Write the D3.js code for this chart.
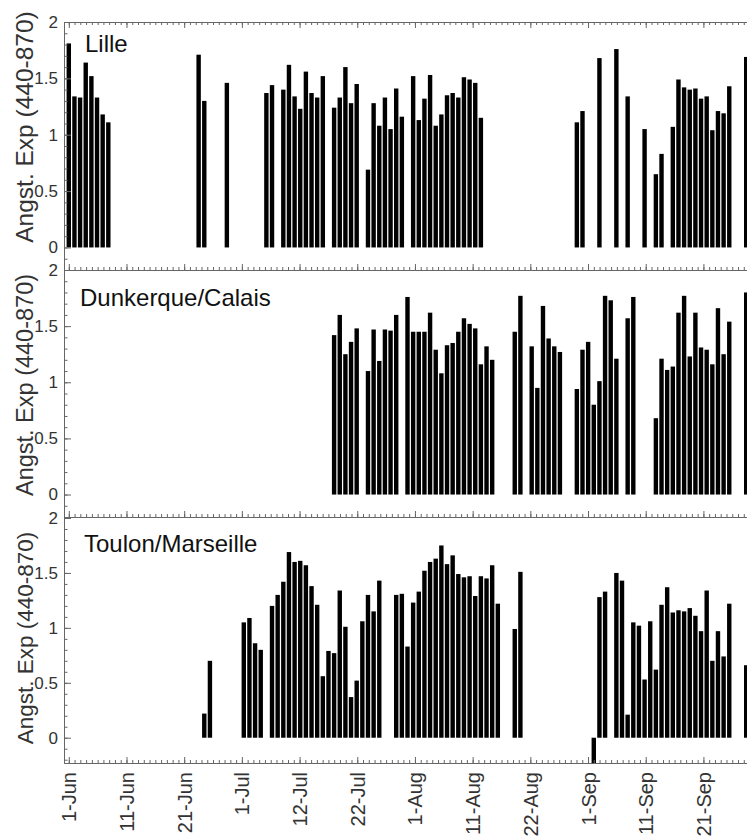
<!DOCTYPE html>
<html>
<head>
<meta charset="utf-8">
<script src="https://cdn.jsdelivr.net/npm/d3@7"></script>
<style>
body { margin: 0; background: #fff; }
svg { display: block; }
text { font-family: "Liberation Sans", Arial, sans-serif; }
</style>
</head>
<body>
<svg id="chart" width="747" height="838"></svg>
<script>
// days counted from 1-Jun, one bar per day with data
var lilleDays = [0,1,2,3,4,5,6,7,23,24,28,35,36,38,39,40,41,42,43,44,45,47,48,49,50,51,
  53,54,55,56,57,58,59,61,62,63,64,65,66,67,68,69,70,71,72,73,
  90,91,94,97,99,102,104,105,107,108,109,110,111,112,113,114,115,116,117,120];
var lilleValues = [1.81,1.34,1.33,1.64,1.52,1.33,1.18,1.11,1.71,1.30,1.46,1.37,1.44,1.40,1.62,1.34,1.23,1.56,1.37,1.33,1.52,1.24,1.33,1.60,1.28,1.45,
  0.69,1.28,1.08,1.33,1.05,1.41,1.16,1.52,1.13,1.32,1.53,1.08,1.18,1.35,1.37,1.33,1.51,1.49,1.46,1.15,
  1.11,1.21,1.68,1.76,1.34,1.05,0.65,0.83,1.07,1.49,1.42,1.40,1.41,1.32,1.34,1.04,1.21,1.19,1.43,1.69];

var dunkDays = [47,48,49,50,51,53,54,55,56,57,58,60,61,62,63,64,65,66,67,68,69,70,71,72,73,74,75,
  79,80,82,83,84,85,86,87,90,91,92,93,94,95,96,97,99,100,
  104,105,106,107,108,109,110,111,112,113,114,115,116,117,120];
var dunkValues = [1.42,1.60,1.25,1.36,1.48,1.10,1.47,1.19,1.47,1.46,1.60,1.76,1.45,1.45,1.45,1.62,1.29,1.08,1.33,1.35,1.45,1.57,1.52,1.48,1.16,1.32,1.20,
  1.45,1.77,1.32,0.95,1.68,1.39,1.32,1.27,0.94,1.29,1.36,0.80,1.01,1.77,1.73,1.21,1.57,1.76,
  0.68,1.21,1.11,1.14,1.62,1.77,1.23,1.62,1.31,1.29,1.16,1.66,1.25,1.54,1.80];

var toulonDays = [24,25,31,32,33,34,36,37,38,39,40,41,42,43,44,45,46,47,48,49,50,51,52,53,54,55,
  58,59,60,61,62,63,64,65,66,67,68,69,70,71,72,73,74,75,76,79,80,93,94,95,
  97,98,99,100,101,102,103,104,105,106,107,108,109,110,111,112,113,114,115,116,117,120];
var toulonValues = [0.22,0.70,1.05,1.09,0.86,0.80,1.20,1.30,1.42,1.69,1.60,1.61,1.57,1.38,1.21,0.56,0.79,0.77,1.34,1.01,0.37,0.52,1.06,1.30,1.15,1.43,
  1.30,1.31,0.83,1.23,1.33,1.52,1.60,1.63,1.75,1.58,1.66,1.49,1.46,1.47,1.29,1.47,1.45,1.57,1.22,0.99,1.51,-0.23,1.28,1.33,
  1.50,1.43,0.21,1.05,1.02,0.53,1.06,0.62,1.21,1.37,1.14,1.16,1.15,1.18,1.11,0.97,1.34,0.70,0.97,0.74,1.22,0.66];

var tickDays = [0,10.22,20.44,30.66,40.88,51.1,61.32,71.54,81.76,91.98,102.2,112.42];
var tickLabels = ["1-Jun","11-Jun","21-Jun","1-Jul","12-Jul","22-Jul","1-Aug","11-Aug","22-Aug","1-Sep","11-Sep","21-Sep"];
var yTicks = [0,0.5,1,1.5,2];
var yTitle = "Angst. Exp (440-870)";

var svg = d3.select("#chart");
var left = 64;

var x = d3.scaleLinear()
    .domain([-0.85, 122])
    .range([left, left + 122.85*5.645]);

var minorDays = d3.range(0, 123, 1.022);

var panels = [
  {name:"Lille", days:lilleDays, values:lilleValues, yMin:-0.2, top:22, bottom:270, nameX:85, nameY:52, titleY:127, titleSize:24.5, topTicks:true},
  {name:"Dunkerque/Calais", days:dunkDays, values:dunkValues, yMin:-0.2, top:270, bottom:517, nameX:80, nameY:306, titleY:385, titleSize:23.5, topTicks:false},
  {name:"Toulon/Marseille", days:toulonDays, values:toulonValues, yMin:-0.23, top:518, bottom:763, nameX:84, nameY:552, titleY:638, titleSize:22.5, topTicks:false}
];

panels.forEach(function(p, i){
    var y = d3.scaleLinear().domain([p.yMin, 2]).range([p.bottom, p.top]);
    var g = svg.append("g");

    var pts = p.days.map(function(d, k){ return {day:d, value:p.values[k]}; });

    g.selectAll("rect.bar")
     .data(pts)
     .enter()
     .append("rect")
     .attr("class","bar")
     .attr("x", function(d){ return x(d.day) - 2.2; })
     .attr("width", 4.4)
     .attr("y", function(d){ return y(Math.max(0, d.value)); })
     .attr("height", function(d){ return Math.abs(y(d.value) - y(0)); })
     .attr("fill", "#000");

    // y axis, ticks pointing inside
    var minorY = d3.range(Math.ceil(p.yMin*10), 21).map(function(v){ return v/10; });
    g.append("g")
     .attr("transform","translate(" + left + ",0)")
     .attr("color","#666")
     .call(d3.axisLeft(y).tickValues(minorY).tickSizeInner(-3.5).tickSizeOuter(0).tickFormat(""));
    var ya = g.append("g")
     .attr("transform","translate(" + left + ",0)")
     .attr("color","#666")
     .call(d3.axisLeft(y).tickValues(yTicks).tickSizeInner(-7).tickSizeOuter(0).tickPadding(6)
        .tickFormat(function(v){ return String(v); }));
    ya.selectAll("text")
      .attr("font-size", 17)
      .attr("font-family", "Liberation Sans, Arial, sans-serif")
      .attr("fill", "#333");

    // bottom line with ticks pointing up
    g.append("g")
     .attr("transform","translate(0," + p.bottom + ")")
     .attr("color","#666")
     .call(d3.axisBottom(x).tickValues(minorDays).tickSizeInner(-3).tickSizeOuter(0).tickFormat(""));
    var xa = g.append("g")
     .attr("transform","translate(0," + p.bottom + ")")
     .attr("color","#666")
     .call(d3.axisBottom(x).tickValues(tickDays).tickSizeInner(-6).tickSizeOuter(0)
        .tickFormat(function(d, k){ return i == 2 ? tickLabels[k] : ""; }));

    if (i == 2) {
        xa.selectAll("text")
          .attr("transform","rotate(-90)")
          .attr("text-anchor","end")
          .attr("x", -9)
          .attr("y", 7)
          .attr("dy", 0)
          .attr("font-size", 20)
          .attr("font-family", "Liberation Sans, Arial, sans-serif")
          .attr("fill", "#333");
    }

    if (p.topTicks) {
        g.append("g")
         .attr("transform","translate(0," + p.top + ")")
         .attr("color","#666")
         .call(d3.axisTop(x).tickValues(minorDays).tickSizeInner(-3).tickSizeOuter(0).tickFormat(""));
        g.append("g")
         .attr("transform","translate(0," + p.top + ")")
         .attr("color","#666")
         .call(d3.axisTop(x).tickValues(tickDays).tickSizeInner(-6).tickSizeOuter(0).tickFormat(""));
    }

    g.append("text")
     .attr("x", p.nameX)
     .attr("y", p.nameY)
     .attr("font-size", 24)
     .attr("fill", "#111")
     .text(p.name);

    g.append("text")
     .attr("transform","translate(33," + p.titleY + ") rotate(-90)")
     .attr("text-anchor","middle")
     .attr("font-size", p.titleSize)
     .attr("fill", "#333")
     .text(yTitle);
});
</script>
</body>
</html>
